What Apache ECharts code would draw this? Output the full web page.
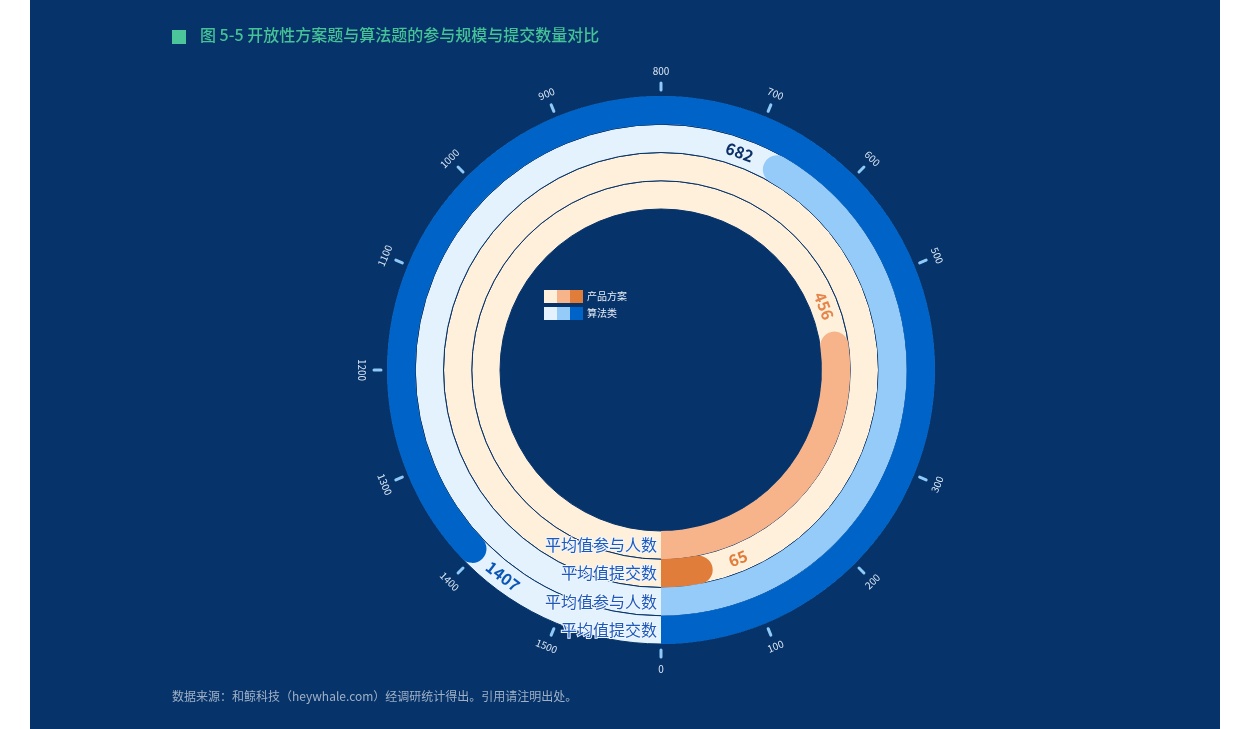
<!DOCTYPE html>
<html>
<head>
<meta charset="utf-8">
<script src="https://cdn.jsdelivr.net/npm/echarts@6/dist/echarts.min.js"></script>
<style>
  html, body { margin: 0; padding: 0; background: #ffffff; }
  #chart { position: absolute; left: 30px; top: 0; width: 1190px; height: 729px; background: #06336a; }
</style>
</head>
<body>
<div id="chart"></div>
<script>
// 径向类目（由内到外）
const categories = ['平均值参与人数', '平均值提交数', '平均值参与人数', '平均值提交数']
// 产品方案 / 算法类 数值
const productValues = [456, 65]
const algoValues = [682, 1407]
// 角度轴刻度
const angleMax = 1600
const tickValues = [0, 100, 200, 300, 500, 600, 700, 800, 900, 1000, 1100, 1200, 1300, 1400, 1500]

const navy = '#06336a'
const ringBg = ['#fff0dc', '#fff0dc', '#e4f2fe', '#e4f2fe']
const barColors = ['#f7b38a', '#e07d3a', '#94cbf9', '#0063c8']
const labelColors = ['#e5854a', '#e07d3a', '#0b2f66', '#0a55b5']

const myChart = echarts.init(document.getElementById('chart'))

const values = productValues.concat(algoValues)

// 文字沿切线方向，保持正向可读
function tangentRotation (cx, cy, x, y) {
  let rot = Math.atan2(-(y - cy), x - cx) - Math.PI / 2
  while (rot >= Math.PI / 2) rot -= Math.PI
  while (rot < -Math.PI / 2) rot += Math.PI
  return rot
}

const options = {
  backgroundColor: navy,
  textStyle: { fontFamily: 'Noto Sans CJK SC' },
  polar: {
    center: [631, 370],
    radius: [161, 274]
  },
  angleAxis: {
    type: 'value',
    min: 0,
    max: angleMax,
    startAngle: -90,
    clockwise: false,
    axisLine: { show: false },
    axisTick: { show: false },
    axisLabel: { show: false },
    splitLine: { show: false }
  },
  radiusAxis: {
    type: 'category',
    data: categories,
    axisLine: { show: false },
    axisTick: { show: false },
    axisLabel: {
      interval: 0,
      color: '#1f58b9',
      fontSize: 16,
      align: 'right',
      margin: -4,
      textBorderColor: '#eef6ff',
      textBorderWidth: 2
    },
    z: 10
  },
  graphic: [
    // 标题前的方块
    { type: 'rect', left: 142, top: 30, shape: { width: 14, height: 14 }, style: { fill: '#4cc59b' } },
    {
      type: 'text', left: 170, top: 27,
      style: { text: '图 5-5 开放性方案题与算法题的参与规模与提交数量对比', fill: '#45c296', fontSize: 16, fontWeight: 500, fontFamily: 'Noto Sans CJK SC' }
    },
    {
      type: 'text', left: 142, top: 690,
      style: { text: '数据来源：和鲸科技（heywhale.com）经调研统计得出。引用请注明出处。', fill: '#9fb0c6', fontSize: 12, fontFamily: 'Noto Sans CJK SC' }
    },
    // 图例
    {
      type: 'group', left: 514, top: 290,
      children: [
        { type: 'rect', shape: { x: 0, y: 0, width: 13, height: 13 }, style: { fill: ringBg[0] } },
        { type: 'rect', shape: { x: 13, y: 0, width: 13, height: 13 }, style: { fill: barColors[0] } },
        { type: 'rect', shape: { x: 26, y: 0, width: 13, height: 13 }, style: { fill: barColors[1] } },
        { type: 'text', x: 43, y: 1, style: { text: '产品方案', fill: '#e8eef7', fontSize: 10, fontFamily: 'Noto Sans CJK SC' } },
        { type: 'rect', shape: { x: 0, y: 17, width: 13, height: 13 }, style: { fill: ringBg[2] } },
        { type: 'rect', shape: { x: 13, y: 17, width: 13, height: 13 }, style: { fill: barColors[2] } },
        { type: 'rect', shape: { x: 26, y: 17, width: 13, height: 13 }, style: { fill: barColors[3] } },
        { type: 'text', x: 43, y: 18, style: { text: '算法类', fill: '#e8eef7', fontSize: 10, fontFamily: 'Noto Sans CJK SC' } }
      ]
    }
  ],
  series: [
    {
      // 环形底色
      name: '背景',
      type: 'bar',
      coordinateSystem: 'polar',
      barCategoryGap: '0%',
      silent: true,
      z: 1,
      data: categories.map((c, i) => ({
        value: angleMax,
        itemStyle: { color: ringBg[i], borderColor: navy, borderWidth: 1 }
      }))
    },
    {
      name: '数值',
      type: 'bar',
      coordinateSystem: 'polar',
      barCategoryGap: '0%',
      barGap: '-100%',
      z: 2,
      data: values.map((v, i) => ({
        value: v,
        itemStyle: { color: barColors[i], borderRadius: [0, 15, 0, 15] }
      }))
    },
    {
      // 数值标签，放在条形末端之后
      name: '数值标签',
      type: 'custom',
      coordinateSystem: 'polar',
      silent: true,
      z: 6,
      data: values.map((v, i) => [i, v]),
      renderItem: (params, api) => {
        const cs = params.coordSys
        const idx = api.value(0)
        const end = api.coord([idx, api.value(1)])
        const rMid = Math.hypot(end[0] - cs.cx, end[1] - cs.cy)
        // 末端之后约 27px 弧长
        const offset = 27 / rMid * angleMax / (2 * Math.PI)
        const p = api.coord([idx, api.value(1) + offset])
        return {
          type: 'text',
          x: p[0],
          y: p[1],
          rotation: tangentRotation(cs.cx, cs.cy, p[0], p[1]),
          style: {
            text: String(api.value(1)),
            fill: labelColors[params.dataIndex],
            fontSize: 16,
            fontWeight: 'bold',
            align: 'center',
            verticalAlign: 'middle',
            fontFamily: 'Noto Sans CJK SC'
          }
        }
      }
    },
    {
      // 角度刻度与标签
      name: '刻度',
      type: 'custom',
      coordinateSystem: 'polar',
      silent: true,
      z: 5,
      data: tickValues.map(v => [0, v]),
      renderItem: (params, api) => {
        const cs = params.coordSys
        const p = api.coord([api.value(0), api.value(1)])
        const dx = p[0] - cs.cx
        const dy = p[1] - cs.cy
        const len = Math.sqrt(dx * dx + dy * dy)
        const ux = dx / len
        const uy = dy / len
        const r = cs.r
        const lx = cs.cx + ux * (r + 25)
        const ly = cs.cy + uy * (r + 25)
        return {
          type: 'group',
          children: [
            {
              type: 'line',
              shape: { x1: cs.cx + ux * (r + 6), y1: cs.cy + uy * (r + 6), x2: cs.cx + ux * (r + 13), y2: cs.cy + uy * (r + 13) },
              style: { stroke: '#8ec9f7', lineWidth: 3, lineCap: 'round' }
            },
            {
              type: 'text',
              x: lx,
              y: ly,
              rotation: tangentRotation(cs.cx, cs.cy, lx, ly),
              style: {
                text: String(api.value(1)),
                fill: '#dce7f4',
                fontSize: 10,
                align: 'center',
                verticalAlign: 'middle',
                fontFamily: 'Noto Sans CJK SC'
              }
            }
          ]
        }
      }
    }
  ]
}

myChart.setOption(options)
</script>
</body>
</html>
